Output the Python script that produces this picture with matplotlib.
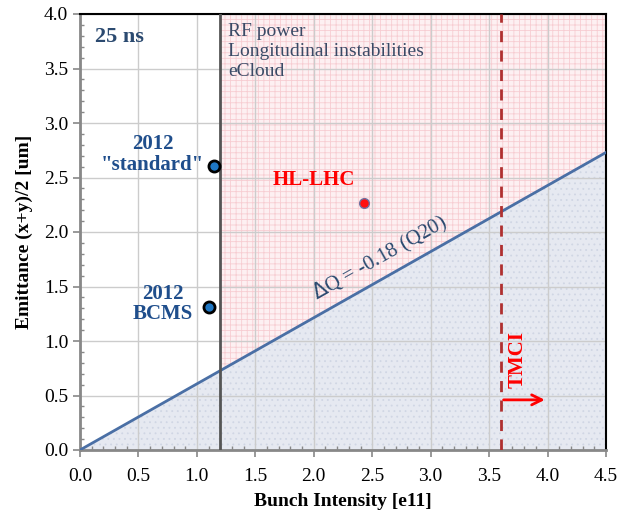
import matplotlib
matplotlib.use("Agg")
import matplotlib.pyplot as plt
import numpy as np
from matplotlib.ticker import MultipleLocator

plt.rcParams['font.family'] = ['Liberation Serif', 'DejaVu Serif']
plt.rcParams['hatch.linewidth'] = 0.6

# data
line_x = [0.0, 4.5]
line_y = [0.0, 2.73]
limit_x = 1.2
tmci_x = 3.6
pt_std = (1.15, 2.61)
pt_bcms = (1.10, 1.31)
pt_hl = (2.43, 2.27)
xticks = [0.0, 0.5, 1.0, 1.5, 2.0, 2.5, 3.0, 3.5, 4.0, 4.5]
yticks = [0.0, 0.5, 1.0, 1.5, 2.0, 2.5, 3.0, 3.5, 4.0]

fig = plt.figure(figsize=(6.3, 5.12), dpi=100)
ax = fig.add_axes([80/630, 62/512, 526/630, 436/512])
ax.set_xlim(0, 4.5)
ax.set_ylim(0, 4.0)

# pink region
ax.axvspan(limit_x, 4.5, facecolor='#fdf0f2', edgecolor='#f7cdd2', hatch='+++', lw=0, zorder=0)
# blue fill under line
xs = np.array(line_x)
ys = np.array(line_y)
ax.fill_between(xs, 0, ys, facecolor='#e6e9f1', edgecolor='#d0d6e4', hatch='...', lw=0, zorder=1)

ax.grid(True, which='major', color='#cccccc', lw=1.0, zorder=1.5)

ax.plot(line_x, line_y, color='#4a6fa5', lw=2, zorder=3)
ax.axvline(limit_x, color='#555555', lw=2, zorder=3)
ax.axvline(tmci_x, color='#b03030', lw=2, ls=(0, (4, 3)), zorder=3)

ax.plot(*pt_std, 'o', ms=8, mfc='#1f77c4', mec='black', mew=2, zorder=4)
ax.plot(*pt_bcms, 'o', ms=8, mfc='#1f77c4', mec='black', mew=2, zorder=4)
ax.plot(*pt_hl, 'o', ms=7, mfc='#ff1010', mec='#7070a0', mew=1, zorder=4)

dark = '#1f4e8c'
ax.text(0.13, 3.79, '25 ns', fontsize=16, fontweight='bold', color='#2b4a70', va='center')
ax.text(1.27, 3.92, 'RF power\nLongitudinal instabilities\neCloud', fontsize=14, color='#3a4a66', va='top', linespacing=1.25)
ax.text(0.62, 2.71, '2012\n"standard"', fontsize=15, fontweight='bold', color=dark, ha='center', va='center', linespacing=1.05)
ax.text(0.71, 1.34, '2012\nBCMS', fontsize=15, fontweight='bold', color=dark, ha='center', va='center', linespacing=1.05)
ax.text(2.0, 2.48, 'HL-LHC', fontsize=15, fontweight='bold', color='#ff0000', ha='center', va='center')
ang = np.degrees(np.arctan((2.73*109)/(4.5*116.9)))
ax.text(2.62, 1.66, r'$\Delta$Q = -0.18 (Q20)', fontsize=15, color='#2b4a70', rotation=ang,
        ha='center', va='bottom', rotation_mode='anchor')
ax.text(3.74, 0.83, 'TMCI', fontsize=15, fontweight='bold', color='#ff0000', rotation=90, ha='center', va='center')
ax.annotate('', xy=(4.0, 0.46), xytext=(3.6, 0.46),
            arrowprops=dict(arrowstyle='->', color='#ff0000', lw=2, mutation_scale=18))

ax.set_xticks(xticks)
ax.set_yticks(yticks)
ax.set_xticklabels([f'{v:.1f}' for v in xticks])
ax.set_yticklabels([f'{v:.1f}' for v in yticks])
ax.xaxis.set_minor_locator(MultipleLocator(0.1))
ax.yaxis.set_minor_locator(MultipleLocator(0.1))
ax.tick_params(axis='both', which='major', direction='out', length=5, color='#888888', labelsize=14, width=1.2)
ax.tick_params(axis='both', which='minor', direction='in', length=3, color='#888888', width=1)
ax.tick_params(axis='x', pad=8)

for s in ['left', 'bottom']:
    ax.spines[s].set_color('#888888')
    ax.spines[s].set_linewidth(2)
for s in ['top', 'right']:
    ax.spines[s].set_color('black')
    ax.spines[s].set_linewidth(1.5)

ax.set_xlabel('Bunch Intensity [e11]', fontsize=14, fontweight='bold', labelpad=6)
ax.set_ylabel('Emittance (x+y)/2 [um]', fontsize=14, fontweight='bold', labelpad=8)

fig.savefig('out.png', dpi=100)
